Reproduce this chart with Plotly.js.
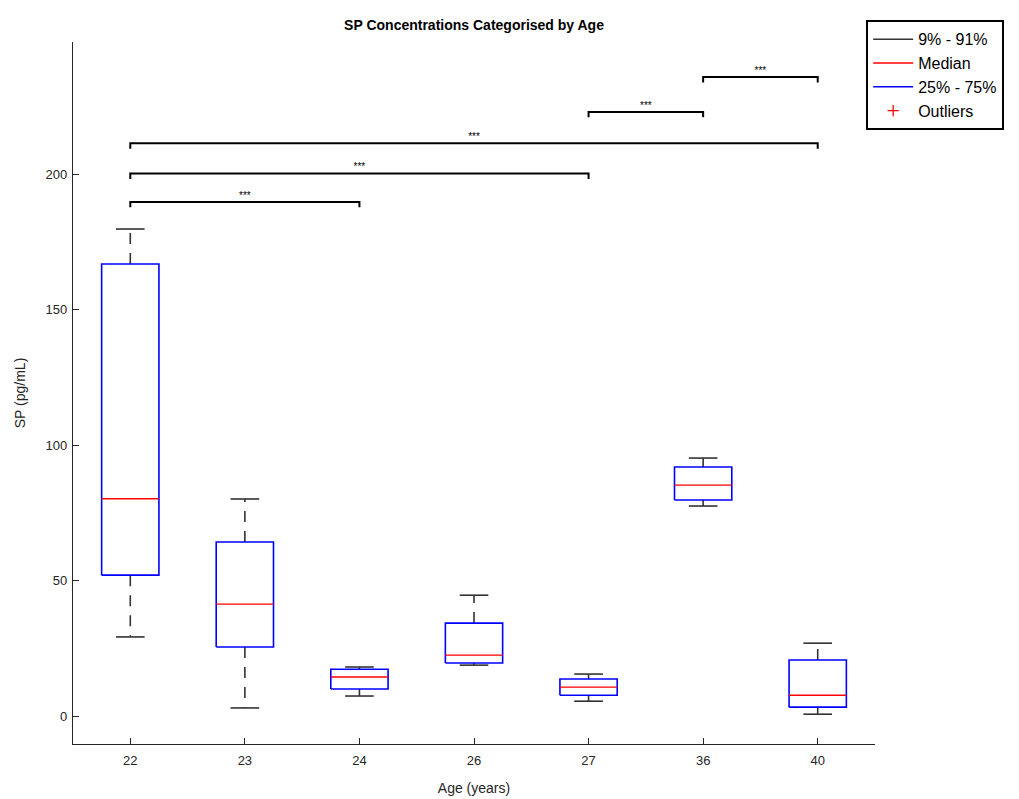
<!DOCTYPE html>
<html>
<head>
<meta charset="utf-8">
<script src="https://cdn.plot.ly/plotly-3.0.1.min.js"></script>
<style>html,body{margin:0;padding:0;background:#fff;}#chart{width:1019px;height:799px;}</style>
</head>
<body>
<div id="chart"></div>
<script>
// Data
const ages = ['22', '23', '24', '26', '27', '36', '40'];
const lowerWhisker = [29.2, 3.0, 7.4, 18.8, 5.5, 77.5, 0.7];
const q1Values     = [52.0, 25.5, 10.0, 19.6, 7.7, 79.7, 3.3];
const medians      = [80.2, 41.3, 14.4, 22.5, 10.7, 85.2, 7.7];
const q3Values     = [166.8, 64.2, 17.3, 34.3, 13.7, 91.9, 20.7];
const upperWhisker = [179.7, 80.1, 18.1, 44.6, 15.5, 95.2, 26.9];

// Significance brackets: [from index, to index, level]
const bracketFrom  = [0, 0, 0, 4, 5];
const bracketTo    = [2, 4, 6, 5, 6];
const bracketLevel = [189.7, 200.2, 211.3, 222.9, 235.8];
const bracketLabel = ['***', '***', '***', '***', '***'];

const halfBox = 0.25, halfCap = 0.125, drop = 2.0;
const idx = ages.map((_, i) => i);

function rects() {
  const x = [], y = [];
  idx.forEach(i => {
    x.push(i - halfBox, i + halfBox, i + halfBox, i - halfBox, i - halfBox, null);
    y.push(q1Values[i], q1Values[i], q3Values[i], q3Values[i], q1Values[i], null);
  });
  return {x, y};
}
function hlines(vals, half) {
  const x = [], y = [];
  idx.forEach(i => { x.push(i - half, i + half, null); y.push(vals[i], vals[i], null); });
  return {x, y};
}
function whiskers() {
  const x = [], y = [];
  idx.forEach(i => {
    x.push(i, i, null, i, i, null);
    y.push(q3Values[i], upperWhisker[i], null, q1Values[i], lowerWhisker[i], null);
  });
  return {x, y};
}
function brackets() {
  const x = [], y = [];
  bracketFrom.forEach((a, k) => {
    const b = bracketTo[k], L = bracketLevel[k];
    x.push(a, a, b, b, null);
    y.push(L - drop, L, L, L - drop, null);
  });
  return {x, y};
}

const r = rects(), m = hlines(medians, halfBox), w = whiskers();
const cu = hlines(upperWhisker, halfCap), cl = hlines(lowerWhisker, halfCap), br = brackets();

const traces = [
  {x: w.x, y: w.y, mode: 'lines', line: {color: '#333333', width: 1.6, dash: '11px,9px'}, showlegend: false, hoverinfo: 'skip'},
  {x: cu.x.concat(cl.x), y: cu.y.concat(cl.y), mode: 'lines', line: {color: '#333333', width: 1.6}, showlegend: false, hoverinfo: 'skip'},
  {x: r.x, y: r.y, mode: 'lines', line: {color: '#0000ff', width: 1.6}, showlegend: false, hoverinfo: 'skip'},
  {x: m.x, y: m.y, mode: 'lines', line: {color: '#ff0000', width: 1.4}, showlegend: false, hoverinfo: 'skip'},
  {x: br.x, y: br.y, mode: 'lines', line: {color: '#000000', width: 2}, showlegend: false, hoverinfo: 'skip'},
  {x: bracketFrom.map((a, k) => (a + bracketTo[k]) / 2), y: bracketLevel.map(v => v + 0.2), mode: 'text',
   text: bracketLabel, textposition: 'top center', textfont: {family: 'Liberation Sans, Arial', size: 10, color: '#000000'},
   showlegend: false, hoverinfo: 'skip'},
  // legend entries
  {x: [null], y: [null], mode: 'lines', name: '9% - 91%', line: {color: '#333333', width: 1.5}},
  {x: [null], y: [null], mode: 'lines', name: 'Median', line: {color: '#ff0000', width: 1.5}},
  {x: [null], y: [null], mode: 'lines', name: '25% - 75%', line: {color: '#0000ff', width: 1.5}},
  {x: [null], y: [null], mode: 'markers', name: 'Outliers', marker: {symbol: 'cross-thin-open', color: '#ff0000', size: 8, line: {color: '#ff0000', width: 1.3}}}
];

const layout = {
  width: 1019, height: 799,
  margin: {l: 73, r: 144, t: 42, b: 55},
  paper_bgcolor: '#ffffff', plot_bgcolor: '#ffffff',
  font: {family: 'Liberation Sans, Arial, sans-serif', size: 13, color: '#262626'},
  title: {text: '<b>SP Concentrations Categorised by Age</b>', x: 0.4652, xanchor: 'center', y: 0.968, yanchor: 'middle',
          font: {size: 14, color: '#000'}},
  xaxis: {
    range: [-0.5, 6.5], tickmode: 'array', tickvals: idx, ticktext: ages,
    showgrid: false, zeroline: false, showline: true, linecolor: '#262626', linewidth: 1.2,
    ticks: 'inside', ticklen: 6, tickcolor: '#262626', tickfont: {size: 13}, ticklabelstandoff: 4,
    title: {text: 'Age (years)', font: {size: 14}, standoff: 16}
  },
  yaxis: {
    range: [-10.3, 248.7], tickvals: [0, 50, 100, 150, 200],
    showgrid: false, zeroline: false, showline: true, linecolor: '#262626', linewidth: 1.2,
    ticks: 'inside', ticklen: 6, tickcolor: '#262626', tickfont: {size: 13}, ticklabelstandoff: 2,
    title: {text: 'SP (pg/mL)', font: {size: 14}, standoff: 16}
  },
  showlegend: true,
  legend: {
    x: 0.989, y: 1.031, xanchor: 'left', yanchor: 'top',
    bordercolor: '#000', borderwidth: 2, bgcolor: '#fff',
    font: {size: 16, color: '#000'}, itemwidth: 40, tracegroupgap: 0
  }
};

Plotly.newPlot('chart', traces, layout, {displayModeBar: false, staticPlot: true});
</script>
</body>
</html>
